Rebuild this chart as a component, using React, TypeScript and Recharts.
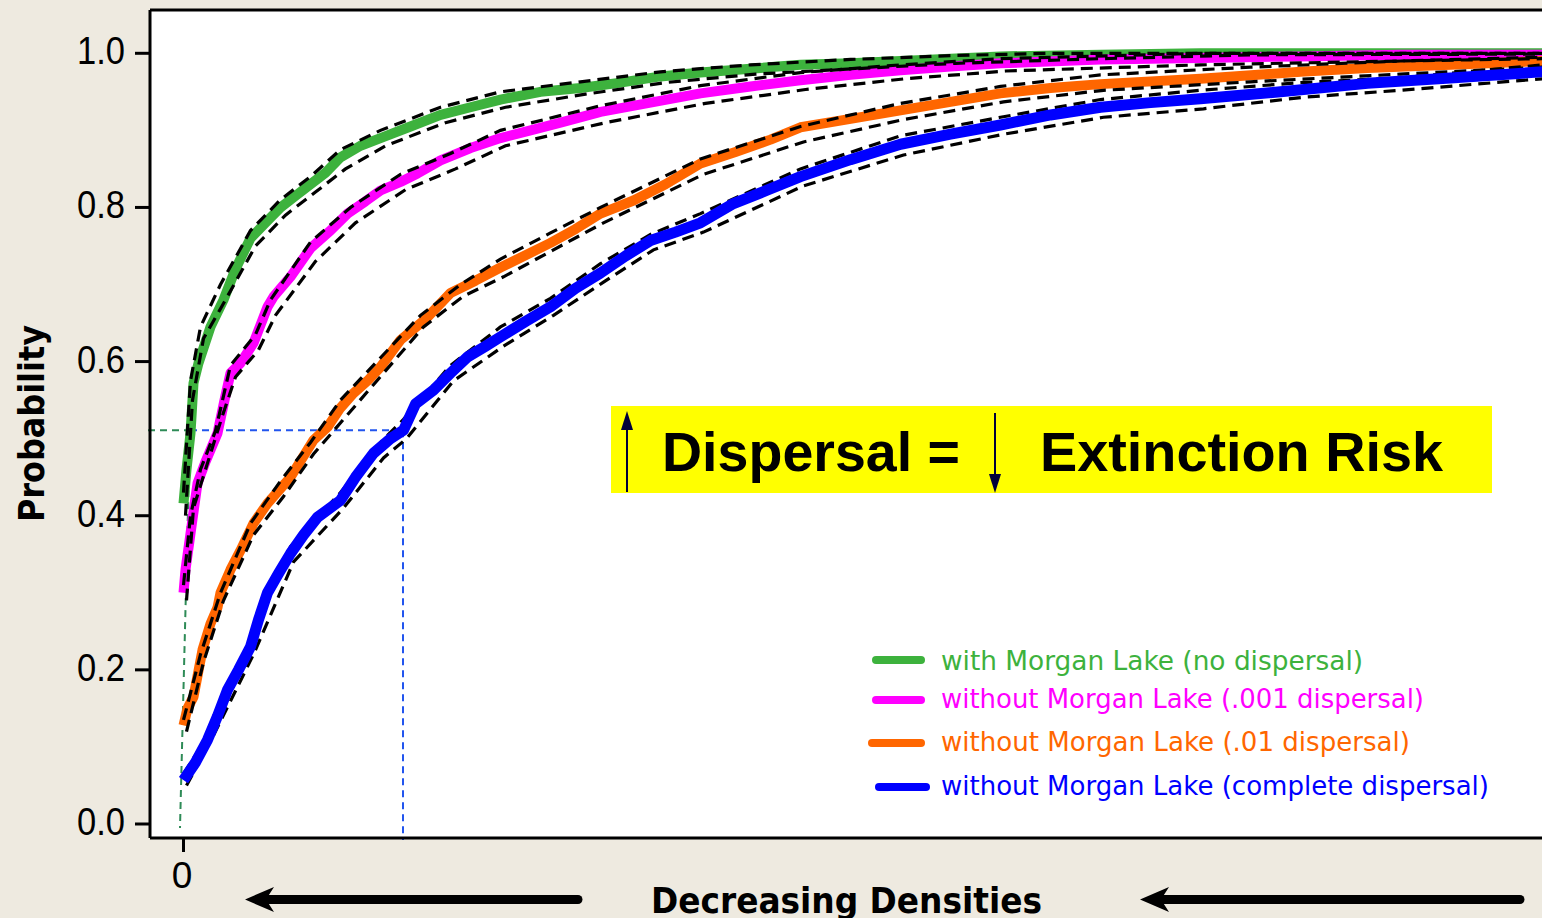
import { LineChart, Line, XAxis, YAxis, ReferenceLine, Legend, CartesianGrid } from "recharts";

// x = density index (0 at the origin tick, decreasing densities to the right), y = probability
type Pt = [number, number];

const GREEN: Pt[] = [
  [0, 0.416], [3, 0.46], [7, 0.507], [10, 0.572], [15, 0.598], [27, 0.645], [40, 0.68], [52, 0.72],
  [67, 0.76], [82, 0.78], [97, 0.8], [112, 0.815], [127, 0.83], [142, 0.845], [157, 0.865], [177, 0.88],
  [197, 0.89], [227, 0.905], [257, 0.92], [287, 0.93], [317, 0.94], [357, 0.95], [397, 0.955], [437, 0.962],
  [477, 0.97], [517, 0.975], [567, 0.98], [617, 0.985], [667, 0.987], [717, 0.99], [767, 0.993], [817, 0.996],
  [917, 0.998], [1017, 1.0], [1359, 1.0],
];
const GREEN_UP: Pt[] = [
  [0, 0.43], [7, 0.575], [17, 0.645], [37, 0.7], [67, 0.77], [97, 0.81], [127, 0.84], [157, 0.875], [197, 0.9],
  [257, 0.93], [317, 0.95], [397, 0.963], [477, 0.976], [567, 0.985], [667, 0.992], [767, 0.997], [867, 1.0], [1359, 1.0],
];
const GREEN_LO: Pt[] = [
  [2, 0.4], [9, 0.55], [20, 0.63], [42, 0.68], [72, 0.75], [102, 0.79], [132, 0.82], [162, 0.85], [202, 0.88],
  [262, 0.91], [322, 0.93], [402, 0.947], [482, 0.962], [572, 0.973], [672, 0.98], [772, 0.987], [917, 0.993],
  [1067, 0.998], [1359, 0.999],
];

const MAGENTA: Pt[] = [
  [0, 0.3], [2, 0.33], [7, 0.377], [14, 0.442], [22, 0.47], [34, 0.507], [41, 0.55], [47, 0.585], [57, 0.598],
  [70, 0.624], [84, 0.671], [90, 0.684], [107, 0.71], [127, 0.747], [147, 0.77], [164, 0.792], [182, 0.808],
  [197, 0.822], [217, 0.833], [234, 0.844], [257, 0.861], [287, 0.877], [317, 0.89], [347, 0.9], [377, 0.91],
  [417, 0.924], [467, 0.936], [517, 0.948], [567, 0.957], [617, 0.965], [667, 0.972], [717, 0.978], [767, 0.983],
  [817, 0.987], [917, 0.992], [1017, 0.994], [1117, 0.996], [1217, 0.998], [1359, 0.998],
];
const MAGENTA_UP: Pt[] = [
  [0, 0.31], [7, 0.4], [17, 0.46], [32, 0.51], [47, 0.595], [72, 0.635], [87, 0.68], [127, 0.755], [167, 0.8],
  [217, 0.843], [267, 0.87], [317, 0.9], [417, 0.932], [517, 0.958], [617, 0.975], [717, 0.985], [817, 0.993],
  [1017, 1.0], [1359, 1.0],
];
const MAGENTA_LO: Pt[] = [
  [3, 0.29], [10, 0.41], [22, 0.46], [39, 0.53], [52, 0.58], [75, 0.615], [92, 0.66], [132, 0.73], [172, 0.78],
  [222, 0.823], [272, 0.85], [322, 0.88], [422, 0.91], [522, 0.935], [622, 0.953], [722, 0.967], [822, 0.977],
  [1017, 0.985], [1217, 0.99], [1359, 0.993],
];

const ORANGE: Pt[] = [
  [0, 0.128], [4, 0.15], [10, 0.165], [19, 0.226], [27, 0.26], [34, 0.281], [37, 0.3], [47, 0.33], [57, 0.355],
  [70, 0.39], [84, 0.416], [107, 0.45], [130, 0.498], [144, 0.515], [157, 0.54], [170, 0.559], [184, 0.575],
  [197, 0.593], [217, 0.628], [242, 0.655], [267, 0.689], [292, 0.705], [317, 0.722], [342, 0.738], [367, 0.754],
  [392, 0.772], [417, 0.792], [450, 0.809], [482, 0.83], [517, 0.857], [552, 0.872], [587, 0.888], [617, 0.904],
  [667, 0.915], [717, 0.926], [767, 0.937], [817, 0.948], [867, 0.955], [917, 0.96], [1017, 0.967],
  [1117, 0.976], [1184, 0.981], [1267, 0.985], [1359, 0.99],
];
const ORANGE_UP: Pt[] = [
  [0, 0.135], [17, 0.22], [37, 0.3], [67, 0.39], [97, 0.445], [127, 0.495], [157, 0.55], [197, 0.605], [237, 0.66],
  [277, 0.7], [317, 0.733], [367, 0.767], [417, 0.8], [517, 0.863], [617, 0.905], [717, 0.935], [817, 0.957],
  [917, 0.972], [1067, 0.982], [1217, 0.99], [1359, 0.995],
];
const ORANGE_LO: Pt[] = [
  [3, 0.12], [20, 0.21], [40, 0.29], [70, 0.375], [100, 0.425], [130, 0.48], [160, 0.525], [200, 0.585],
  [240, 0.645], [280, 0.685], [320, 0.71], [370, 0.745], [420, 0.78], [520, 0.843], [620, 0.885], [720, 0.914],
  [820, 0.937], [920, 0.952], [1067, 0.963], [1217, 0.973], [1359, 0.982],
];

const BLUE: Pt[] = [
  [0, 0.057], [12, 0.08], [24, 0.109], [34, 0.14], [44, 0.174], [55, 0.2], [67, 0.23], [75, 0.265], [84, 0.3],
  [95, 0.325], [107, 0.351], [120, 0.375], [134, 0.398], [157, 0.42], [172, 0.45], [190, 0.481], [207, 0.5],
  [220, 0.511], [232, 0.545], [250, 0.563], [267, 0.585], [284, 0.606], [302, 0.62], [317, 0.632], [342, 0.652],
  [367, 0.671], [392, 0.695], [417, 0.715], [442, 0.737], [467, 0.757], [492, 0.768], [517, 0.78], [550, 0.805],
  [583, 0.822], [617, 0.84], [667, 0.862], [717, 0.882], [767, 0.895], [817, 0.907], [867, 0.92], [917, 0.93],
  [967, 0.936], [1017, 0.941], [1097, 0.95], [1184, 0.961], [1267, 0.968], [1359, 0.976],
];
const BLUE_UP: Pt[] = [
  [0, 0.065], [27, 0.12], [67, 0.24], [107, 0.36], [157, 0.43], [197, 0.495], [220, 0.525], [267, 0.595],
  [317, 0.645], [367, 0.682], [417, 0.727], [467, 0.765], [517, 0.792], [617, 0.85], [717, 0.893], [817, 0.917],
  [917, 0.94], [1017, 0.952], [1117, 0.962], [1217, 0.968], [1359, 0.985],
];
const BLUE_LO: Pt[] = [
  [3, 0.05], [30, 0.115], [70, 0.22], [110, 0.34], [160, 0.41], [200, 0.475], [223, 0.5], [270, 0.575],
  [320, 0.62], [370, 0.66], [420, 0.703], [470, 0.745], [520, 0.768], [620, 0.828], [720, 0.868], [820, 0.895],
  [920, 0.917], [1020, 0.928], [1120, 0.943], [1217, 0.952], [1359, 0.967],
];

const Y_TICKS = [0, 0.2, 0.4, 0.6, 0.8, 1.0];
const X_TICKS = [0];
const X_DOMAIN: [number, number] = [-33.5, 1358.5];
const Y_DOMAIN: [number, number] = [-0.01817, 1.05618];
const HALF_LEVEL = 0.511;

const SERIES = [
  { key: "green", name: "with Morgan Lake (no dispersal)", color: "#3DB23D", mid: GREEN, up: GREEN_UP, lo: GREEN_LO },
  { key: "magenta", name: "without Morgan Lake (.001 dispersal)", color: "#FF00FF", mid: MAGENTA, up: MAGENTA_UP, lo: MAGENTA_LO },
  { key: "orange", name: "without Morgan Lake (.01 dispersal)", color: "#FF6600", mid: ORANGE, up: ORANGE_UP, lo: ORANGE_LO },
  { key: "blue", name: "without Morgan Lake (complete dispersal)", color: "#0000FF", mid: BLUE, up: BLUE_UP, lo: BLUE_LO },
];

const toRows = (pts: Pt[]) => pts.map(([x, y]) => ({ x, y }));

const LEGEND_ROWS = [
  { x1: 12, x2: 65, ly: 20, ty: 30, w: 422 },
  { x1: 12, x2: 65, ly: 60, ty: 68, w: 483 },
  { x1: 8, x2: 65, ly: 103, ty: 111, w: 469 },
  { x1: 15, x2: 70, ly: 147, ty: 155, w: 548 },
];

const YTick = (props: any) => (
  <text x={125} y={props.y + 11} textAnchor="end" fontFamily="Liberation Sans, Arial" fontSize={38}
    textLength={48} lengthAdjust="spacingAndGlyphs" fill="#000">
    {Number(props.payload.value).toFixed(1)}
  </text>
);

const XTick = (props: any) => (
  <text x={props.x - 1.5} y={888} textAnchor="middle" fontFamily="Liberation Sans, Arial" fontSize={37} fill="#000">
    {props.payload.value}
  </text>
);

const LegendBox = () => (
  <svg width={680} height={170} style={{ display: "block" }}>
    {SERIES.map((s, i) => {
      const r = LEGEND_ROWS[i];
      return (
        <g key={s.key}>
          <line x1={r.x1 + 4} x2={r.x2 - 4} y1={r.ly} y2={r.ly} stroke={s.color} strokeWidth={8} strokeLinecap="round" />
          <text x={81} y={r.ty} fill={s.color} fontFamily="DejaVu Sans, Verdana" fontSize={26}
            textLength={r.w} lengthAdjust="spacingAndGlyphs">{s.name}</text>
        </g>
      );
    })}
  </svg>
);

export default function App() {
  const axisStroke = { stroke: "#000", strokeWidth: 3 };
  const [green, magenta, orange, blue] = SERIES;
  const bands = (s: typeof green) => [
    <Line key={s.key + "-up"} data={toRows(s.up)} dataKey="y" type="linear" stroke="#000" strokeWidth={3.2}
      strokeDasharray="12 7" dot={false} activeDot={false} legendType="none" isAnimationActive={false} />,
    <Line key={s.key + "-lo"} data={toRows(s.lo)} dataKey="y" type="linear" stroke="#000" strokeWidth={3.2}
      strokeDasharray="12 7" dot={false} activeDot={false} legendType="none" isAnimationActive={false} />,
  ];
  const mid = (s: typeof green, w: number) => (
    <Line key={s.key} data={toRows(s.mid)} dataKey="y" name={s.name} type="linear" stroke={s.color}
      strokeWidth={w} strokeLinejoin="round" dot={false} activeDot={false} isAnimationActive={false} />
  );

  return (
    <div style={{ position: "absolute", left: 0, top: 0, width: 1542, height: 918, background: "#EEEAE0", overflow: "hidden" }}>
      <LineChart width={1542} height={918} margin={{ top: 10, right: 0, bottom: 0, left: 0 }}>
        <CartesianGrid fill="#FFFFFF" horizontal={false} vertical={false} />
        <XAxis dataKey="x" type="number" domain={X_DOMAIN} ticks={X_TICKS} allowDataOverflow height={80}
          tickSize={14} axisLine={axisStroke} tickLine={axisStroke} tick={(p: any) => <XTick {...p} />} />
        <YAxis type="number" domain={Y_DOMAIN} ticks={Y_TICKS} allowDataOverflow width={150}
          tickSize={15} axisLine={axisStroke} tickLine={axisStroke} tick={(p: any) => <YTick {...p} />} />
        <ReferenceLine y={Y_DOMAIN[1]} stroke="#000" strokeWidth={3} ifOverflow="visible" />

        <ReferenceLine segment={[{ x: -35.5, y: HALF_LEVEL }, { x: 6.5, y: HALF_LEVEL }]} stroke="#2E8B57"
          strokeWidth={2} strokeDasharray="7 5" ifOverflow="visible" />
        <ReferenceLine segment={[{ x: 6.5, y: HALF_LEVEL }, { x: -3.5, y: -0.0052 }]} stroke="#2E8B57"
          strokeWidth={2} strokeDasharray="7 5" ifOverflow="visible" />
        <ReferenceLine segment={[{ x: 6.5, y: HALF_LEVEL }, { x: 219.5, y: HALF_LEVEL }]} stroke="#2255EE"
          strokeWidth={2} strokeDasharray="7 5" ifOverflow="visible" />
        <ReferenceLine segment={[{ x: 219.5, y: HALF_LEVEL }, { x: 219.5, y: -0.0208 }]} stroke="#2255EE"
          strokeWidth={2} strokeDasharray="7 5" ifOverflow="visible" />

        {mid(green, 10)}
        {mid(magenta, 10)}
        {mid(orange, 10)}
        {bands(green)}
        {bands(magenta)}
        {bands(orange)}
        {bands(blue)}
        {mid(blue, 11)}

        <Legend layout="horizontal" verticalAlign="middle" align="center"
          wrapperStyle={{ left: 860, top: 640, width: 680, height: 170 }} content={() => <LegendBox />} />
      </LineChart>

      <svg width={1542} height={918} style={{ position: "absolute", left: 0, top: 0, pointerEvents: "none" }}>
        <text transform="translate(43.5, 423.5) rotate(-90)" textAnchor="middle" fontFamily="DejaVu Sans, Verdana"
          fontWeight="bold" fontSize={36} textLength={197} lengthAdjust="spacingAndGlyphs" fill="#000">Probability</text>

        <rect x={611} y={406} width={881} height={87} fill="#FFFF00" />
        <text x={662} y={471} fontFamily="Liberation Sans, Arial" fontWeight="bold" fontSize={55}
          textLength={298} lengthAdjust="spacingAndGlyphs" fill="#000">Dispersal =</text>
        <text x={1040} y={471} fontFamily="Liberation Sans, Arial" fontWeight="bold" fontSize={55}
          textLength={403} lengthAdjust="spacingAndGlyphs" fill="#000">Extinction Risk</text>
        <line x1={627} y1={492} x2={627} y2={426} stroke="#00003A" strokeWidth={2} />
        <polygon points="627,411 621,430 633,430" fill="#00003A" />
        <line x1={995} y1={413} x2={995} y2={478} stroke="#00003A" strokeWidth={2} />
        <polygon points="995,493 989,474 1001,474" fill="#00003A" />

        <text x={846.5} y={913} textAnchor="middle" fontFamily="DejaVu Sans, Verdana" fontWeight="bold"
          fontSize={36} textLength={391} lengthAdjust="spacingAndGlyphs" fill="#000">Decreasing Densities</text>
        <line x1={262} y1={899.5} x2={578} y2={899.5} stroke="#000" strokeWidth={9} strokeLinecap="round" />
        <polygon points="245,899.5 274,887 266,899.5 274,912" fill="#000" />
        <line x1={1157} y1={899.5} x2={1520} y2={899.5} stroke="#000" strokeWidth={9} strokeLinecap="round" />
        <polygon points="1140,899.5 1169,887 1161,899.5 1169,912" fill="#000" />
      </svg>
    </div>
  );
}
